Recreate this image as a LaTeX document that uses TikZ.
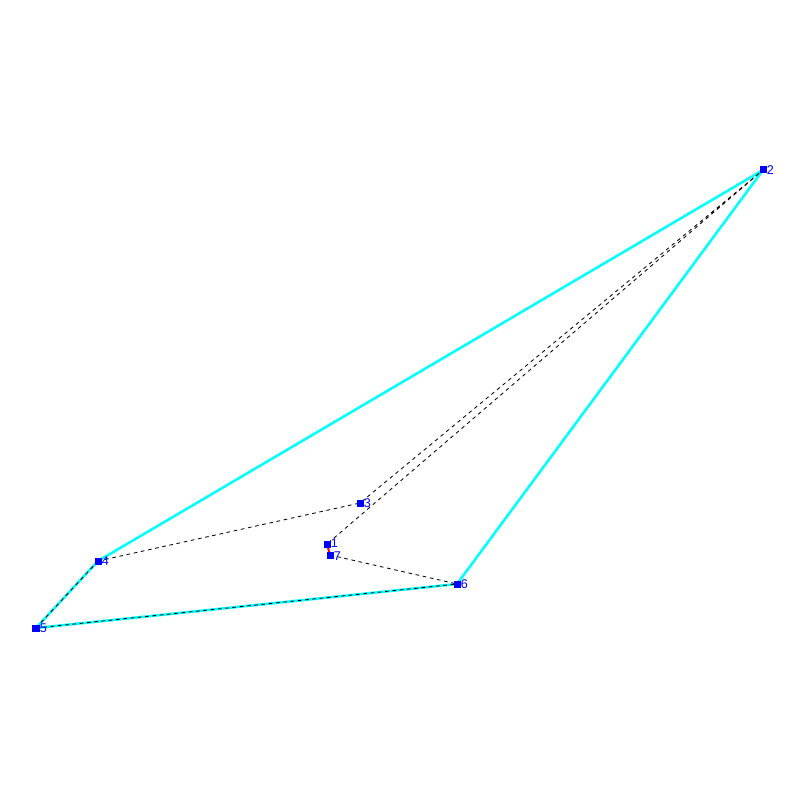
\documentclass[tikz,border=0pt]{standalone}
\usepackage{fontspec}
\setmainfont{Liberation Sans}
\definecolor{hullcyan}{RGB}{0,255,255}
\definecolor{ptblue}{RGB}{0,0,255}
\begin{document}
\begin{tikzpicture}[x=0.025cm,y=-0.025cm,
  ptbox/.style={fill=ptblue,inner sep=0pt,minimum size=0.175cm,draw=none},
  lbl/.style={text=ptblue,font=\fontsize{9pt}{10pt}\selectfont,inner sep=0pt,anchor=west},
  hullline/.style={hullcyan,line width=1.8pt},
  dashline/.style={black,line width=0.6pt,dash pattern=on 2.6pt off 2.6pt},
  redline/.style={red,line width=1.4pt}]
\useasboundingbox (0,0) rectangle (800,800);
\coordinate (c1) at (327,544);
\coordinate (c2) at (763,170);
\coordinate (c3) at (360,503);
\coordinate (c4) at (98,561);
\coordinate (c5) at (36,628);
\coordinate (c6) at (457,584);
\coordinate (c7) at (330,555);
\draw[hullline] (c2) -- (c4) -- (c5) -- (c6) -- (c2);
\draw[dashline] (c4) -- (c3) -- (c2) -- (c1);
\draw[dashline] (c7) -- (c6);
\draw[dashline] (c5) -- (c4);
\draw[dashline] (c5) -- (c6);
\draw[redline] (c1) -- (c7);
\foreach \i in {1,...,7} {
  \node[ptbox] (n\i) at (c\i) {};
}
\foreach \i/\dy in {1/0.03,2/0,3/0,4/0,5/0,6/0,7/-0.04} {
  \node[lbl] (l\i) at ([xshift=0.09cm,yshift=\dy cm]c\i) {\i};
}
\end{tikzpicture}
\end{document}
